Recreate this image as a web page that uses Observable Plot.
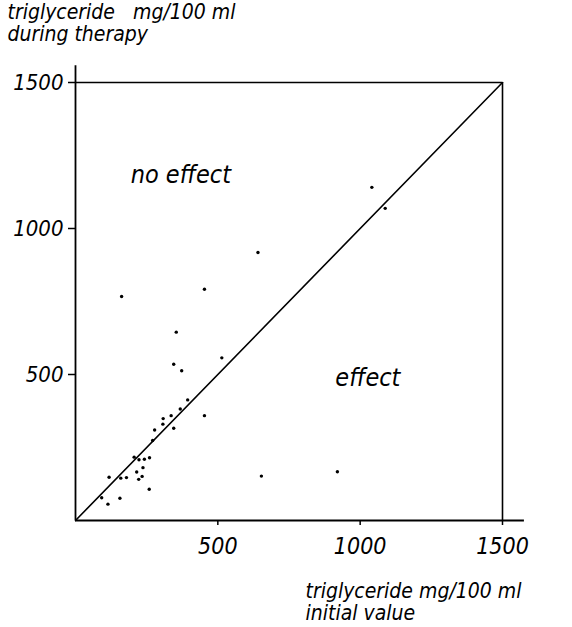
<!DOCTYPE html>
<html>
<head>
<meta charset="utf-8">
<script src="https://cdn.jsdelivr.net/npm/d3@7"></script>
<script src="https://cdn.jsdelivr.net/npm/@observablehq/plot@0.6"></script>
<style>
  html, body { margin: 0; padding: 0; background: #fff; }
  #chart svg { display: block; }
</style>
</head>
<body>
<div id="chart"></div>
<script>
// initial triglyceride value (mg/100 ml)
const initialValue = [1041, 1088, 641, 453, 354, 345, 373, 514, 162, 653, 920,
  394, 368, 453, 336, 308, 307, 345, 278, 271, 206, 223, 242, 260, 237, 215,
  234, 222, 259, 118, 159, 179, 92, 156, 114];
// triglyceride during therapy (mg/100 ml)
const duringTherapy = [1141, 1069, 918, 792, 645, 535, 513, 557, 767, 152, 167,
  413, 382, 359, 359, 349, 330, 316, 310, 274, 217, 208, 210, 215, 181, 166,
  151, 141, 107, 148, 145, 147, 78, 76, 56];
const tickValues = [500, 1000, 1500];
const diagonal = [0, 1500];
const regionLabels = ["no effect", "effect"];
const yTitle = "triglyceride   mg/100 ml\nduring therapy";
const xTitle = "triglyceride mg/100 ml\ninitial value";

const points = initialValue.map((x, i) => ({x, y: duringTherapy[i]}));

const font = "'DejaVu Sans Condensed', 'DejaVu Sans', sans-serif";

const chart = Plot.plot({
  width: 572,
  height: 627,
  marginLeft: 75,
  marginRight: 70,
  marginTop: 82,
  marginBottom: 107,
  style: {fontFamily: font, fontStyle: "oblique", color: "#000", background: "#fff"},
  x: {domain: [0, 1500], axis: null},
  y: {domain: [0, 1500], axis: null},
  marks: [
    // axes lines (extending slightly beyond the frame)
    Plot.ruleY([0], {x1: 0, x2: 1577, stroke: "#000", strokeWidth: 1.8}),
    Plot.ruleX([0], {y1: 0, y2: 1557, stroke: "#000", strokeWidth: 1.8}),
    // frame top and right
    Plot.ruleY([1500], {x1: 0, x2: 1500, stroke: "#000", strokeWidth: 1.6}),
    Plot.ruleX([1500], {y1: 0, y2: 1500, stroke: "#000", strokeWidth: 1.6}),
    Plot.axisX(tickValues, {label: null, tickSize: 5, tickPadding: 12, fontSize: 23, strokeWidth: 1.5, tickFormat: d => String(d)}),
    Plot.axisY(tickValues, {label: null, tickSize: 7, tickPadding: 5, fontSize: 22, strokeWidth: 1.5, tickFormat: d => String(d)}),
    Plot.line(diagonal, {x: d => d, y: d => d, stroke: "#000", strokeWidth: 1.6}),
    Plot.dot(points, {x: "x", y: "y", r: 1.7, fill: "#000", stroke: "none"}),
    Plot.text([regionLabels[0]], {x: 370, y: 1183, text: d => d, fontSize: 25, fill: "#000"}),
    Plot.text([regionLabels[1]], {x: 1027, y: 487, text: d => d, fontSize: 25, fill: "#000"}),
    Plot.text([yTitle], {frameAnchor: "top-left", text: d => d, dx: -68, dy: -79, textAnchor: "start", lineAnchor: "top", lineHeight: 1.05, fontSize: 21, fill: "#000"}),
    Plot.text([xTitle], {frameAnchor: "bottom-left", text: d => d, dx: 230, dy: 62, textAnchor: "start", lineAnchor: "top", lineHeight: 1.05, fontSize: 21, fill: "#000"})
  ]
});
document.getElementById("chart").appendChild(chart);
</script>
</body>
</html>
